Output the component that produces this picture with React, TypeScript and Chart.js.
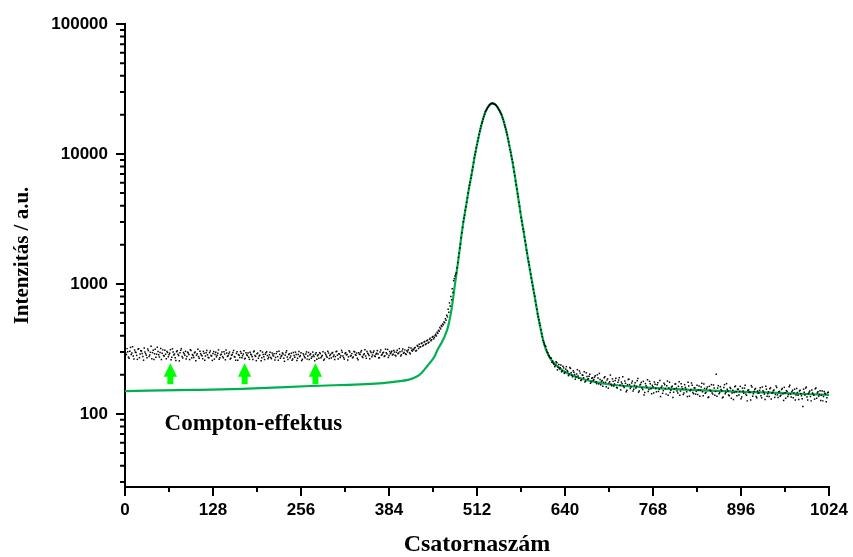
import React, { useEffect, useRef } from 'react';
import { Chart, registerables } from 'chart.js';

Chart.register(...registerables);

// measured points: even channels (0, 2, 4, ...) and odd channels (1, 3, 5, ...)
const CH_STEP = 2;

// measured counts, even channels 0 - 418
const comptonCounts = [
  312, 286, 301, 268, 325, 294, 279, 310, 297, 263, 318, 289, 305, 276, 322,
  291, 270, 307, 284, 331, 296, 262, 315, 288, 302, 274, 319, 293, 281, 309,
  266, 297, 285, 312, 273, 300, 289, 258, 306, 281, 295, 318, 269, 290, 303,
  277, 294, 262, 308, 286, 272, 299, 283, 314, 268, 291, 280, 303, 259, 296,
  285, 271, 305, 279, 292, 264, 298, 283, 311, 270, 288, 276, 301, 261, 294,
  280, 299, 268, 287, 308, 274, 292, 259, 283, 302, 271, 289, 265, 296, 281,
  273, 298, 284, 262, 305, 277, 290, 268, 283, 256, 299, 275, 288, 301, 266,
  285, 272, 294, 279, 260, 291, 276, 303, 268, 282, 289, 254, 297, 274, 286,
  270, 293, 265, 281, 299, 258, 287, 276, 295, 263, 284, 271, 300, 279, 262,
  290, 275, 283, 257, 296, 280, 268, 292, 277, 301, 264, 286, 273, 294, 282,
  269, 297, 284, 276, 303, 265, 289, 280, 298, 271, 292, 285, 260, 306, 279,
  291, 274, 300, 283, 268, 295, 287, 307, 272, 290, 279, 302, 288, 266, 297,
  284, 305, 276, 293, 289, 271, 310, 286, 298, 280, 295, 313, 282, 291, 303,
  288, 299, 279, 309, 294, 301, 285, 316, 297, 290, 306, 312, 295, 321, 304,
];
// measured counts, odd channels 1 - 419
const comptonCountsOdd = [
  295, 318, 274, 303, 287, 329, 265, 299, 282, 314, 271, 306, 292, 259, 300,
  283, 316, 277, 298, 266, 309, 290, 273, 326, 285, 297, 262, 311, 279, 288,
  302, 275, 293, 261, 317, 284, 270, 301, 288, 256, 309, 276, 297, 283, 265,
  299, 286, 312, 270, 281, 295, 257, 290, 276, 304, 284, 266, 293, 279, 307,
  272, 296, 281, 258, 302, 287, 275, 293, 263, 284, 299, 270, 289, 310, 277,
  290, 265, 283, 297, 276, 259, 301, 286, 272, 293, 280, 306, 268, 285, 294,
  263, 288, 275, 300, 282, 257, 294, 279, 306, 270, 287, 262, 296, 281, 273,
  298, 266, 284, 291, 272, 301, 259, 287, 277, 295, 268, 283, 306, 262, 290,
  279, 259, 297, 273, 286, 268, 302, 281, 257, 291, 276, 289, 264, 297, 285,
  268, 299, 276, 288, 263, 285, 296, 271, 282, 259, 294, 279, 303, 267, 287,
  293, 276, 262, 301, 283, 290, 272, 308, 279, 264, 296, 287, 275, 299, 282,
  270, 302, 286, 294, 261, 288, 299, 277, 285, 312, 268, 293, 281, 304, 275,
  297, 279, 288, 307, 270, 300, 283, 294, 276, 315, 289, 272, 302, 296, 284,
  307, 283, 298, 290, 318, 279, 305, 293, 311, 287, 300, 324, 290, 309, 315,
];

// measured counts, even channels 420 - 480
const riseCounts = [
  312, 325, 308, 331, 344, 329, 352, 338, 361, 347, 370, 356, 383, 372, 395, 388,
  410, 425, 440, 462, 478, 492, 510, 540, 575, 640, 715, 800, 920, 1060, 1150,
];
// measured counts, odd channels 421 - 481
const riseCountsOdd = [
  321, 305, 336, 319, 327, 348, 333, 357, 342, 365, 352, 376, 366, 389, 378, 402,
  398, 418, 432, 451, 470, 485, 503, 525, 558, 605, 678, 755, 860, 1100, 1190,
];

// measured counts, even channels 482 - 620
const peakCounts = [
  1220, 1460, 1720, 2030, 2480, 3010, 3380, 3920, 4600, 5420,
  6050, 6880, 7950, 9320, 10400, 11800, 13300, 14950, 16500, 17750,
  19400, 21100, 22000, 22850, 23700, 24350, 24500, 24250, 24100, 23650,
  22800, 21750, 20900, 19950, 18400, 16750, 15400, 14050, 12400, 10800,
  9700, 8600, 7300, 6200, 5350, 4680, 3950, 3250, 2850, 2520,
  2150, 1820, 1580, 1400, 1190, 1030, 910, 805, 690, 590,
  530, 480, 415, 368, 345, 330, 300, 283, 272, 268,
];
// measured counts, odd channels 483 - 621
const peakCountsOdd = [
  1330, 1600, 1890, 2270, 2720, 3200, 3680, 4250, 5000, 5750,
  6500, 7450, 8600, 9850, 11150, 12550, 14100, 15700, 17200, 18600,
  20200, 21500, 22500, 23300, 24000, 24450, 24600, 24300, 23850, 23200,
  22300, 21400, 20400, 19100, 17600, 16100, 14700, 13150, 11600, 10300,
  9100, 7900, 6800, 5800, 4950, 4250, 3600, 3050, 2650, 2300,
  1990, 1720, 1480, 1290, 1110, 970, 850, 740, 640, 560,
  500, 445, 392, 356, 335, 312, 296, 279, 270, 250,
];

// measured counts, even channels 622 - 1022
const tailCounts = [
  255, 241, 236, 248, 229, 222, 238, 215, 226, 209, 231, 212, 203, 224, 198,
  215, 201, 192, 219, 188, 206, 183, 198, 211, 179, 194, 187, 202, 176, 190,
  184, 197, 171, 189, 205, 168, 181, 175, 193, 162, 186, 173, 199, 165, 178,
  170, 188, 158, 182, 166, 176, 193, 160, 172, 152, 184, 168, 161, 179, 155,
  174, 163, 187, 150, 169, 158, 178, 146, 165, 183, 154, 171, 143, 162, 176,
  157, 168, 149, 181, 160, 144, 172, 156, 165, 139, 175, 152, 163, 147, 170,
  158, 145, 177, 150, 162, 141, 168, 155, 136, 164, 151, 173, 146, 159, 142,
  166, 153, 137, 161, 148, 170, 144, 156, 134, 163, 150, 145, 167, 139, 202,
  158, 143, 162, 151, 135, 168, 147, 155, 140, 160, 132, 152, 146, 164, 138,
  155, 149, 131, 158, 144, 166, 139, 152, 147, 128, 161, 143, 154, 136, 150,
  145, 159, 133, 151, 142, 163, 137, 148, 156, 130, 146, 153, 141, 160, 134,
  149, 139, 157, 127, 145, 151, 136, 162, 142, 148, 133, 155, 140, 146, 129,
  152, 138, 114, 147, 158, 135, 143, 150, 126, 145, 139, 156, 132, 148, 141,
  127, 150, 136, 144, 124, 146,
];
// measured counts, odd channels 623 - 1023
const tailCountsOdd = [
  246, 231, 252, 218, 240, 227, 211, 233, 205, 221, 216, 197, 228, 207, 193,
  209, 185, 203, 196, 214, 181, 199, 190, 176, 207, 185, 195, 172, 188, 181,
  192, 176, 200, 170, 184, 178, 163, 190, 175, 182, 158, 177, 169, 186, 164,
  181, 160, 175, 190, 153, 171, 164, 179, 148, 168, 185, 157, 173, 150, 166,
  158, 180, 147, 167, 175, 154, 140, 171, 160, 149, 178, 156, 166, 145, 169,
  148, 174, 155, 136, 164, 151, 168, 142, 179, 158, 146, 161, 134, 156, 170,
  150, 163, 139, 171, 156, 145, 160, 148, 175, 137, 154, 166, 143, 158, 149,
  141, 164, 152, 172, 138, 157, 146, 161, 135, 153, 168, 142, 158, 149, 137,
  165, 146, 154, 133, 160, 143, 171, 150, 138, 157, 145, 129, 162, 148, 155,
  140, 163, 135, 150, 158, 142, 126, 153, 146, 165, 137, 149, 157, 133, 144,
  152, 138, 161, 147, 129, 155, 143, 136, 159, 145, 151, 134, 164, 140, 148,
  137, 154, 143, 160, 132, 149, 141, 166, 135, 152, 145, 128, 157, 139, 150,
  143, 131, 155, 140, 161, 128, 147, 136, 153, 142, 130, 158, 145, 137, 151,
  139, 126, 149, 142, 133, 147,
];

// fitted curve (green)
const fitChannels = [
  0, 100, 170, 270, 370, 400, 410, 420, 430, 440, 450, 455, 460, 465, 470, 475, 480,
  485, 490, 495, 500, 505, 510, 515, 520, 525, 530, 535, 540, 545, 550, 555, 560, 565,
  570, 575, 580, 585, 590, 595, 600, 605, 610, 615, 620, 630, 640, 660, 680, 700, 750,
  800, 850, 900, 950, 1024,
];
const fitValues = [
  150, 153, 156, 164, 172, 179, 182, 189, 203, 235, 275, 315, 350, 395, 470, 640, 1000,
  1550, 2500, 3700, 5300, 7400, 10500, 14000, 18000, 21500, 23800, 24600, 23600, 21500,
  18500, 14700, 11000, 7900, 5400, 3600, 2500, 1700, 1200, 850, 600, 440, 340, 290, 260,
  230, 210, 190, 178, 170, 161, 155, 151, 148, 145, 140,
];

const xTicks = [0, 128, 256, 384, 512, 640, 768, 896, 1024];
const xMinorTicks = [64, 192, 320, 448, 576, 704, 832, 960];
const yTicks = [100, 1000, 10000, 100000];
const yMinorTicks = [
  30, 40, 50, 60, 70, 80, 90,
  200, 300, 400, 500, 600, 700, 800, 900,
  2000, 3000, 4000, 5000, 6000, 7000, 8000, 9000,
  20000, 30000, 40000, 50000, 60000, 70000, 80000, 90000,
];
const Y_MIN = 27.4;
const Y_MAX = 100000;

const xTitle = 'Csatornaszám';
const yTitle = 'Intenzitás / a.u.';
const annotationText = 'Compton-effektus';
const annotationChannel = 57.5;
const annotationValue = 75.4;
const arrowChannels = [66, 174, 277];
const arrowTipValue = 245;
const arrowBaseValue = 169;

const evenCounts = [...comptonCounts, ...riseCounts, ...peakCounts, ...tailCounts];
const oddCounts = [...comptonCountsOdd, ...riseCountsOdd, ...peakCountsOdd, ...tailCountsOdd];
const measuredPoints: { x: number; y: number }[] = [];
evenCounts.forEach((v, i) => {
  measuredPoints.push({ x: i * CH_STEP, y: v });
  if (i < oddCounts.length) measuredPoints.push({ x: i * CH_STEP + 1, y: oddCounts[i] });
});

const extras = {
  id: 'extras',
  afterDraw(chart: any) {
    const { ctx, chartArea } = chart;
    const xs = chart.scales.x;
    const ys = chart.scales.y;
    ctx.save();
    ctx.strokeStyle = '#000';
    ctx.lineWidth = 2;
    ctx.beginPath();
    yTicks.forEach((v) => {
      const p = ys.getPixelForValue(v);
      ctx.moveTo(chartArea.left - 9, p);
      ctx.lineTo(chartArea.left, p);
    });
    yMinorTicks.forEach((v) => {
      const p = ys.getPixelForValue(v);
      ctx.moveTo(chartArea.left - 5, p);
      ctx.lineTo(chartArea.left, p);
    });
    xTicks.forEach((v) => {
      const p = xs.getPixelForValue(v);
      ctx.moveTo(p, chartArea.bottom);
      ctx.lineTo(p, chartArea.bottom + 9);
    });
    xMinorTicks.forEach((v) => {
      const p = xs.getPixelForValue(v);
      ctx.moveTo(p, chartArea.bottom);
      ctx.lineTo(p, chartArea.bottom + 5);
    });
    ctx.stroke();

    // arrows
    ctx.fillStyle = '#00ff00';
    const tipY = ys.getPixelForValue(arrowTipValue);
    const baseY = ys.getPixelForValue(arrowBaseValue);
    const headH = 13.5;
    const headHalf = 6.7;
    const shaftHalf = 3;
    arrowChannels.forEach((c) => {
      const px = xs.getPixelForValue(c);
      ctx.beginPath();
      ctx.moveTo(px, tipY);
      ctx.lineTo(px + headHalf, tipY + headH);
      ctx.lineTo(px + shaftHalf, tipY + headH);
      ctx.lineTo(px + shaftHalf, baseY);
      ctx.lineTo(px - shaftHalf, baseY);
      ctx.lineTo(px - shaftHalf, tipY + headH);
      ctx.lineTo(px - headHalf, tipY + headH);
      ctx.closePath();
      ctx.fill();
    });

    // annotation
    ctx.fillStyle = '#000';
    ctx.font = "bold 23px 'Liberation Serif', 'Times New Roman', serif";
    ctx.textAlign = 'left';
    ctx.textBaseline = 'alphabetic';
    ctx.fillText(annotationText, xs.getPixelForValue(annotationChannel), ys.getPixelForValue(annotationValue));
    ctx.restore();
  },
};

export default function App() {
  const ref = useRef<HTMLCanvasElement>(null);
  useEffect(() => {
    const tickFont = { family: "'Liberation Sans', Arial, sans-serif", size: 17, weight: 'bold' as const };
    const chart = new Chart(ref.current as HTMLCanvasElement, {
      type: 'scatter',
      data: {
        datasets: [
          {
            type: 'scatter',
            label: 'data',
            data: measuredPoints,
            pointStyle: 'rect',
            pointRadius: 1.05,
            borderWidth: 0,
            backgroundColor: '#000',
            borderColor: '#000',
          } as any,
          {
            type: 'line',
            label: 'fit',
            data: fitChannels.map((c, i) => ({ x: c, y: fitValues[i] })),
            borderColor: '#00b050',
            borderWidth: 2.2,
            pointRadius: 0,
            fill: false,
            cubicInterpolationMode: 'monotone',
          } as any,
        ],
      },
      options: {
        responsive: false,
        animation: false,
        devicePixelRatio: 1,
        layout: { padding: { top: 24, right: 24, bottom: 0, left: 0 } },
        plugins: { legend: { display: false }, tooltip: { enabled: false } },
        scales: {
          x: {
            type: 'linear',
            min: 0,
            max: 1024,
            afterBuildTicks: (s: any) => {
              s.ticks = xTicks.map((v) => ({ value: v }));
            },
            afterFit: (s: any) => {
              s.height = 70;
            },
            grid: { display: false, drawTicks: true, tickLength: 13 },
            border: { display: true, color: '#000', width: 2 },
            ticks: {
              autoSkip: false,
              maxRotation: 0,
              padding: 0,
              color: '#000',
              font: tickFont,
              callback: (v: any) => String(v),
            },
            title: {
              display: true,
              text: xTitle,
              color: '#000',
              font: { family: "'Liberation Serif', 'Times New Roman', serif", size: 24, weight: 'bold', lineHeight: 1 },
              padding: { top: 0, bottom: 0 },
            },
          },
          y: {
            type: 'logarithmic',
            min: Y_MIN,
            max: Y_MAX,
            afterBuildTicks: (s: any) => {
              s.ticks = yTicks.map((v) => ({ value: v }));
            },
            afterFit: (s: any) => {
              s.width = 125;
            },
            grid: { display: false, drawTicks: true, tickLength: 17 },
            border: { display: true, color: '#000', width: 2 },
            ticks: {
              autoSkip: false,
              padding: 0,
              color: '#000',
              font: tickFont,
              callback: (v: any) => String(v),
            },
            title: {
              display: true,
              text: yTitle,
              color: '#000',
              font: { family: "'Liberation Serif', 'Times New Roman', serif", size: 21, weight: 'bold', lineHeight: 1.2 },
              padding: { top: 10, bottom: 0 },
            },
          },
        },
      },
      plugins: [extras],
    } as any);
    return () => chart.destroy();
  }, []);
  return (
    <div style={{ position: 'fixed', left: 0, top: 0, width: 853, height: 557, background: '#fff' }}>
      <canvas ref={ref} width={853} height={557} style={{ display: 'block', width: 853, height: 557 }} />
    </div>
  );
}
